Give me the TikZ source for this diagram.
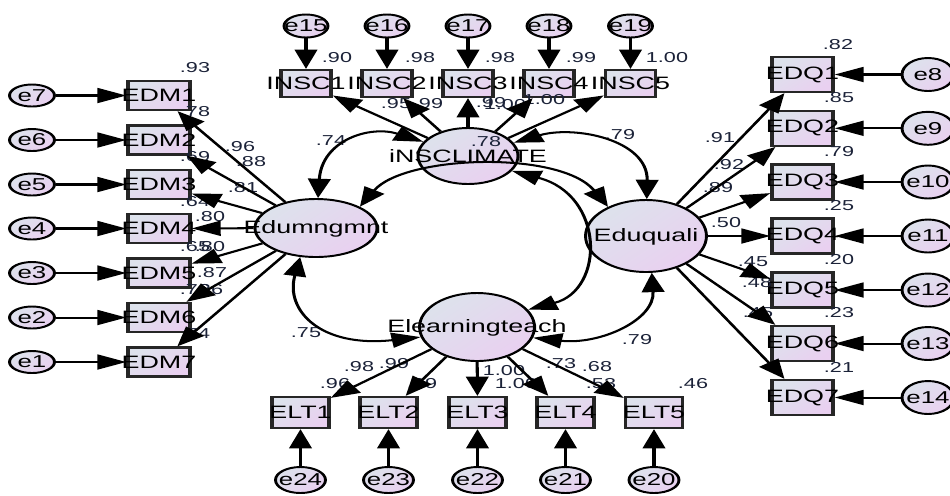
\documentclass[tikz,border=0pt]{standalone}
\usepackage{fontspec}
\setmainfont{Liberation Sans}
\usetikzlibrary{arrows.meta,shapes.geometric}
\definecolor{shadeA}{HTML}{DDE2EC}
\definecolor{shadeB}{HTML}{E9D0F0}
\definecolor{numc}{HTML}{1B2238}
\tikzset{
  fillgrad/.style={top color=shadeA, bottom color=shadeB, shading angle=45},
  latent/.style={ellipse, draw=black, line width=1.1pt, inner sep=0pt, fillgrad},
  obsbox/.style={rectangle, draw=black!85, line width=1.3pt, inner sep=0pt, fillgrad},
  errnode/.style={ellipse, draw=black, line width=1.1pt, inner sep=0pt, fillgrad},
  vname/.style={font=\fontsize{10.2}{12}\selectfont, inner sep=0pt},
  ename/.style={font=\fontsize{9.8}{11}\selectfont, inner sep=0pt},
  num/.style={font=\fontsize{8.2}{10}\selectfont, text=numc, inner sep=0pt},
  regpath/.style={-{Triangle[length=11pt,width=8.5pt]}, line width=1.15pt},
  covpath/.style={{Triangle[length=11pt,width=8.5pt]}-{Triangle[length=11pt,width=8.5pt]}, line width=1.15pt},
}
\begin{document}
\begin{tikzpicture}[x=0.02cm,y=-0.02cm]
\useasboundingbox (0,0) rectangle (950,495);
% the whole model is set on a horizontally stretched canvas
\begin{scope}[transform canvas={xscale=1.5}, x=0.0133333cm, y=-0.02cm]

% latent variables
\node[latent, minimum width=1.333cm, minimum height=1.12cm] (ins) at (468,156) {};
\node[latent, minimum width=1.627cm, minimum height=1.16cm] (edm) at (316,228) {};
\node[latent, minimum width=1.613cm, minimum height=1.44cm] (edq) at (646,236) {};
\node[latent, minimum width=1.533cm, minimum height=1.36cm] (elt) at (477,327) {};
\node[vname] (tins) at (468,156) {iNSCLIMATE};
\node[vname] (tedm) at (316,229) {Edumngmnt};
\node[vname] (tedq) at (646,237) {Eduquali};
\node[vname] (telt) at (477,328) {Elearningteach};

% Edumngmnt indicators
\foreach \i/\y/\e in {1/95.5/7,2/140/6,3/184.5/5,4/228.5/4,5/273/3,6/317.5/2,7/362/1}{
  \node[obsbox, minimum width=0.827cm, minimum height=0.58cm] (m\i) at (159,\y) {};
  \node[vname] (tm\i) at (159,\y) {EDM\i};
  \node[errnode, minimum width=0.6cm, minimum height=0.44cm] (e\e) at (32,\y) {};
  \node[ename] (te\e) at (32,\y) {e\e};
}
% iNSCLIMATE indicators
\foreach \i/\x/\e in {1/306/15,2/387/16,3/468/17,4/549/18,5/630.5/19}{
  \node[obsbox, minimum width=0.667cm, minimum height=0.54cm] (s\i) at (\x,83.5) {};
  \node[vname] (ts\i) at (\x,83.5) {INSC\i};
  \node[errnode, minimum width=0.587cm, minimum height=0.46cm] (e\e) at (\x,26) {};
  \node[ename] (te\e) at (\x,26) {e\e};
}
% Eduquali indicators
\foreach \i/\y/\e in {1/74.5/8,2/128.3/9,3/182/10,4/236/11,5/290/12,6/343.5/13,7/397.5/14}{
  \node[obsbox, minimum width=0.813cm, minimum height=0.70cm] (q\i) at (802.5,\y) {};
  \node[vname] (tq\i) at (802.5,\y) {EDQ\i};
  \node[errnode, minimum width=0.693cm, minimum height=0.66cm] (e\e) at (928,\y) {};
  \node[ename] (te\e) at (928,\y) {e\e};
}
% Elearningteach indicators
\foreach \i/\x/\e in {1/300.5/24,2/388.5/23,3/477.5/22,4/565.5/21,5/654/20}{
  \node[obsbox, minimum width=0.76cm, minimum height=0.62cm] (l\i) at (\x,412.5) {};
  \node[vname] (tl\i) at (\x,412.5) {ELT\i};
  \node[errnode, minimum width=0.667cm, minimum height=0.52cm] (e\e) at (\x,480) {};
  \node[ename] (te\e) at (\x,480) {e\e};
}

% squared multiple correlations and estimates
\foreach \n/\x/\y/\v in {
  a1/195/68/.93, a2/195/112/.78, a3/195/157/.69, a4/195/202/.64,
  a5/195/247/.65, a6/195/290/.76, a7/195/334/.74,
  b1/240/147/.96, b2/251/162/.88, b3/243/188/.81, b4/210/217/.80,
  b5/210/247/.80, b6/212/273/.87, b7/208/290/.86,
  c1/337/58/.90, c2/420/58/.98, c3/500/58/.98, c4/581/58/.99, c5/667/58/1.00,
  d1/396/104/.95, d2/428/104/.99, d3/491/103/.99, d4/505/105/1.00, d5/544/100/1.00,
  f1/331/141/.74, f2/620/135/.79, f3/486/142/.78, f4/306/333/.75, f5/637/340/.79,
  g1/838/45/.82, g2/839/98/.85, g3/839/152/.79, g4/839/206/.25,
  g5/839/260/.20, g6/839/313/.23, g7/839/367/.21,
  h1/720/138/.91, h2/729/165/.92, h3/718/188/.89, h4/726/223/.50,
  h5/753/262/.45, h6/757/283/.48, h7/758/313/.45,
  k1/335/384/.96, k2/422/384/.99, k3/516/384/1.00, k4/601/384/.53, k5/693/384/.46,
  n1/359/367/.98, n2/394/364/.99, n3/504/371/1.00, n4/561/364/.73, n5/597/367/.68}{
  \node[num] (\n) at (\x,\y) {\v};
}

% error terms
\foreach \i/\e in {1/7,2/6,3/5,4/4,5/3,6/2,7/1}{\draw[regpath] (e\e) -- (m\i);}
\foreach \i/\e in {1/15,2/16,3/17,4/18,5/19}{\draw[regpath] (e\e) -- (s\i);}
\foreach \i/\e in {1/8,2/9,3/10,4/11,5/12,6/13,7/14}{\draw[regpath] (e\e) -- (q\i);}
\foreach \i/\e in {1/24,2/23,3/22,4/21,5/20}{\draw[regpath] (e\e) -- (l\i);}

% factor loadings
\foreach \i in {1,...,7}{\draw[regpath] (edm) -- (m\i);}
\foreach \i in {1,...,5}{\draw[regpath] (ins) -- (s\i);}
\foreach \i in {1,...,7}{\draw[regpath] (edq) -- (q\i);}
\foreach \i in {1,...,5}{\draw[regpath] (elt) -- (l\i);}

% covariances
\draw[covpath] (ins) .. controls (370,125) and (322,140) .. (edm);
\draw[covpath] (ins) .. controls (575,125) and (648,140) .. (edq);
\draw[covpath] (edm.36) .. controls (405,155) and (560,150) .. (edq.131);
\draw[covpath] (ins.-27) .. controls (605,195) and (605,290) .. (elt.27);
\draw[covpath] (edm.250) .. controls (285,310) and (320,348) .. (elt.195);
\draw[covpath] (edq.-84) .. controls (655,320) and (600,345) .. (elt.-16);
\end{scope}
\end{tikzpicture}
\end{document}
